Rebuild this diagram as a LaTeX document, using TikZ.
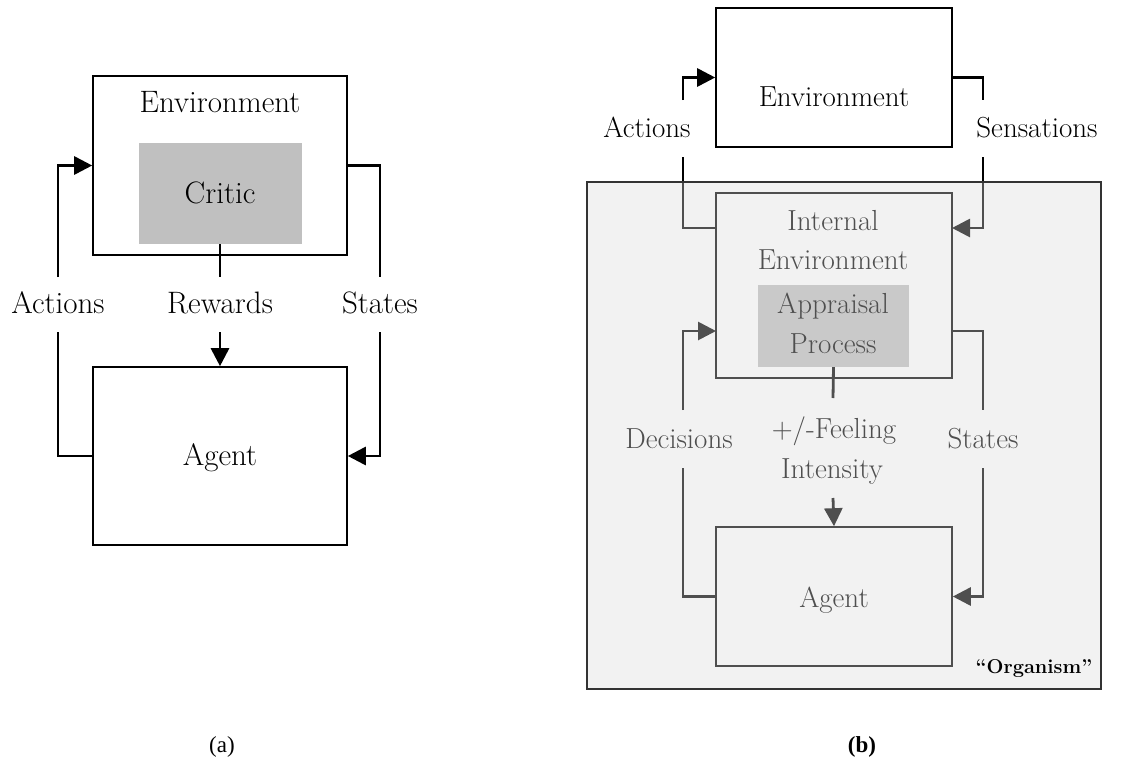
\documentclass[tikz,border=0pt]{standalone}
\usepackage{fontspec}
\newfontfamily\capfont{Liberation Serif}
\usetikzlibrary{arrows.meta}
\definecolor{criticgray}{HTML}{C0C0C0}
\definecolor{orgfill}{HTML}{DBDBDB}
\definecolor{orgline}{HTML}{333333}
\begin{document}
\begin{tikzpicture}[x=1pt,y=-1pt,
  blk/.style={draw=black, line width=1.6pt, fill=white, inner sep=0},
  shade/.style={fill=criticgray, inner sep=0},
  conn/.style={draw=black, line width=2.8pt},
  arr/.style={conn, -{Triangle[length=18pt,width=18pt]}},
  txta/.style={font=\fontsize{31}{36}\selectfont, anchor=base, inner sep=0},
  txtb/.style={font=\fontsize{29}{34}\selectfont, anchor=base, inner sep=0},
  orgbox/.style={draw=orgline, line width=2pt, fill=orgfill, fill opacity=0.361, inner sep=0},
  orglabel/.style={font=\bfseries\fontsize{20}{24}\selectfont, anchor=base, inner sep=0},
  caption/.style={font=\capfont\fontsize{23}{26}\selectfont, anchor=base, inner sep=0}
]
\useasboundingbox (0,0) rectangle (1143,774);

% ---------------- (a) ----------------
\node[blk, minimum width=254, minimum height=179] (envA) at (220,165.5) {};
\node[shade, minimum width=163, minimum height=101] (critic) at (220,193.5) {};
\node[blk, minimum width=254, minimum height=178] (agentA) at (220,456) {};
\node[txta] (envAt) at (220,112) {Environment};
\node[txta] (criticT) at (220,203) {Critic};
\node[txta] (agentAt) at (220,465) {Agent};
\node[txta] (actA) at (58,313) {Actions};
\node[txta] (rewA) at (220,313) {Rewards};
\node[txta] (stA) at (380,313) {States};

\coordinate (actAhi) at (58,277);  \coordinate (actAlo) at (58,332);
\coordinate (rewAhi) at (220,277); \coordinate (rewAlo) at (220,332);
\coordinate (stAhi) at (380,277);  \coordinate (stAlo) at (380,332);

\draw[conn] (agentA.west) -| (actAlo);
\draw[arr] (actAhi) |- (envA.west);
\draw[conn] (envA.east) -| (stAhi);
\draw[arr] (stAlo) |- (agentA.east);
\draw[conn] (critic.south) -- (rewAhi);
\draw[arr] (rewAlo) -- (agentA.north);

% ---------------- (b) ----------------
\node[blk, minimum width=236, minimum height=139] (envB) at (834,77.5) {};
\node[txtb] (envBt) at (834,106) {Environment};
\node[txtb] (actB) at (647,137) {Actions};
\node[txtb] (senB) at (1037,137) {Sensations};

\node[blk, minimum width=236, minimum height=185] (ienv) at (834,285.5) {};
\node[shade, minimum width=151, minimum height=82] (appr) at (833.5,326) {};
\node[blk, minimum width=236, minimum height=139] (agentB) at (834,596.5) {};

\node[txtb] (ienvT1) at (833,230) {Internal};
\node[txtb] (ienvT2) at (833,269) {Environment};
\node[txtb] (apprT1) at (833,313) {Appraisal};
\node[txtb] (apprT2) at (833,353) {Process};
\node[txtb] (agentBt) at (834,607) {Agent};
\node[txtb] (decB) at (679,448) {Decisions};
\node[txtb] (stB) at (983,448) {States};
\node[txtb] (feelT1) at (834,438) {+/-Feeling};
\node[txtb] (feelT2) at (832,478) {Intensity};

\coordinate (actBhi) at (683,100); \coordinate (actBlo) at (683,157);
\coordinate (senBhi) at (983,100); \coordinate (senBlo) at (983,157);
\coordinate (ienvAct) at (716,228); \coordinate (ienvSen) at (952,228);
\coordinate (ienvDec) at (716,331); \coordinate (ienvSt) at (952,331);
\coordinate (decBhi) at (683,410); \coordinate (decBlo) at (683,468);
\coordinate (stBhi) at (983,410);  \coordinate (stBlo) at (983,468);
\coordinate (feBhi) at (833,398);  \coordinate (feBlo) at (833,498);

\draw[arr] (actBhi) |- (envB.west);
\draw[conn] (envB.east) -| (senBhi);
\draw[conn] (actBlo) |- (ienvAct);
\draw[arr] (senBlo) |- (ienvSen);
\draw[arr] (decBhi) |- (ienvDec);
\draw[conn] (agentB.west) -| (decBlo);
\draw[conn] (ienvSt) -| (stBhi);
\draw[arr] (stBlo) |- (agentB.east);
\draw[conn] (appr.south) -- (feBhi);
\draw[arr] (feBlo) -- (agentB.north);

% translucent organism boundary over the inner loop
\node[orgbox, minimum width=514, minimum height=507] (org) at (844,435.5) {};
\node[orglabel] (orgT) at (1034,673) {“Organism”};

% ---------------- captions ----------------
\node[caption] (capA) at (222,752) {(a)};
\node[caption, font=\capfont\bfseries\fontsize{23}{26}\selectfont] (capB) at (862,752) {(b)};
\end{tikzpicture}
\end{document}
